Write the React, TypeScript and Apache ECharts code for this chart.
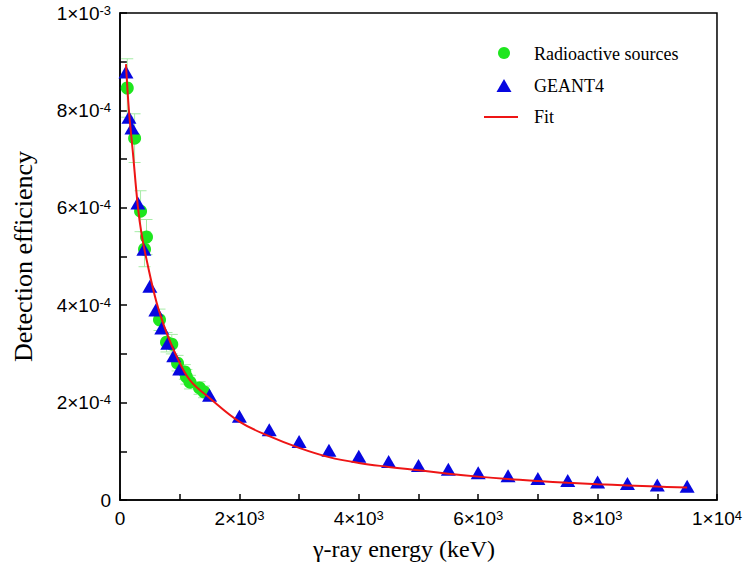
import React, { useEffect, useRef } from 'react';
import * as echarts from 'echarts';

// Radioactive source measurements (keV, efficiency, abs. uncertainty)
const sourceEnergy = [121.8, 244.7, 344.3, 411.1, 444.0, 661.7, 778.9, 867.4, 964.1, 1085.8, 1112.1, 1173.2, 1332.5, 1408.0];
const sourceEff = [8.46e-4, 7.43e-4, 5.93e-4, 5.15e-4, 5.40e-4, 3.70e-4, 3.24e-4, 3.20e-4, 2.81e-4, 2.63e-4, 2.53e-4, 2.42e-4, 2.30e-4, 2.22e-4];
const sourceErr = [0.60e-4, 0.50e-4, 0.42e-4, 0.36e-4, 0.36e-4, 0.22e-4, 0.20e-4, 0.20e-4, 0.16e-4, 0.15e-4, 0.15e-4, 0.14e-4, 0.13e-4, 0.12e-4];

// GEANT4 simulation
const geantEnergy = [100, 150, 200, 300, 400, 500, 600, 700, 800, 900, 1000, 1500, 2000, 2500, 3000, 3500, 4000, 4500, 5000, 5500, 6000, 6500, 7000, 7500, 8000, 8500, 9000, 9500];
const geantEff = [8.79e-4, 7.86e-4, 7.64e-4, 6.10e-4, 5.15e-4, 4.39e-4, 3.90e-4, 3.53e-4, 3.22e-4, 2.96e-4, 2.69e-4, 2.15e-4, 1.72e-4, 1.44e-4, 1.20e-4, 1.02e-4, 0.90e-4, 0.79e-4, 0.71e-4, 0.63e-4, 0.56e-4, 0.50e-4, 0.44e-4, 0.40e-4, 0.37e-4, 0.34e-4, 0.31e-4, 0.28e-4];

// Fit curve
const fitEnergy = [100, 150, 212, 300, 363, 446, 614, 781, 948, 1171, 1505, 2000, 2500, 3000, 3500, 4000, 4500, 5000, 5500, 6000, 6500, 7000, 7500, 8000, 8500, 9000, 9500];
const fitEff = [8.95e-4, 7.99e-4, 7.19e-4, 6.02e-4, 5.45e-4, 4.93e-4, 4.05e-4, 3.43e-4, 2.95e-4, 2.46e-4, 2.09e-4, 1.61e-4, 1.31e-4, 1.07e-4, 0.88e-4, 0.76e-4, 0.68e-4, 0.61e-4, 0.54e-4, 0.48e-4, 0.43e-4, 0.39e-4, 0.355e-4, 0.325e-4, 0.30e-4, 0.275e-4, 0.255e-4];

const legendNames = ['Radioactive sources', 'GEANT4', 'Fit'];
const xTitle = 'γ-ray energy (keV)';
const yTitle = 'Detection efficiency';

const GREEN = '#1ee61e';
const BLUE = '#0707e0';
const RED = '#ee1515';
const ERR = '#a6eca6';
const SANS = 'Liberation Sans';
const SERIF = 'Liberation Serif';

const richLabel = {
  b: { fontSize: 19, fontFamily: SANS, color: '#000' },
  s: { fontSize: 13, fontFamily: SANS, color: '#000', verticalAlign: 'top' as const },
};

function xFmt(v: number) {
  const k = Math.round(v / 1000);
  if (k === 0) return '{b|0}';
  if (k % 2 !== 0) return '';
  if (k === 10) return '{b|1×10}{s|4}';
  return `{b|${k}×10}{s|3}`;
}
function yFmt(v: number) {
  const k = Math.round(v * 1e4);
  if (k === 0) return '{b|0}';
  if (k % 2 !== 0) return '';
  if (k === 10) return '{b|1×10}{s|-3}';
  return `{b|${k}×10}{s|-4}`;
}

export default function App() {
  const ref = useRef<HTMLDivElement>(null);
  useEffect(() => {
    if (!ref.current) return;
    const chart = echarts.init(ref.current, null, { renderer: 'svg' });
    const errData = sourceEnergy.map((e, i) => [e, sourceEff[i], sourceErr[i]]);
    chart.setOption({
      animation: false,
      backgroundColor: '#fff',
      grid: { left: 120, right: 27, top: 13, bottom: 81, show: true, borderColor: '#000', borderWidth: 1.5, backgroundColor: 'transparent' },
      xAxis: {
        type: 'value', min: 0, max: 10000, interval: 1000,
        axisLine: { lineStyle: { color: '#000', width: 1.5 } },
        axisTick: { inside: true, length: 6, lineStyle: { color: '#000', width: 1.5 } },
        axisLabel: { formatter: xFmt, rich: richLabel, margin: 9, showMaxLabel: true },
        splitLine: { show: false },
      },
      yAxis: {
        type: 'value', min: 0, max: 1e-3, interval: 1e-4,
        name: yTitle, nameLocation: 'middle', nameGap: 84,
        nameTextStyle: { fontFamily: SERIF, fontSize: 26, color: '#000' },
        axisLine: { lineStyle: { color: '#000', width: 1.5 } },
        axisTick: { inside: true, length: 7, lineStyle: { color: '#000', width: 1.5 } },
        axisLabel: { formatter: yFmt, rich: richLabel, margin: 9, showMaxLabel: true },
        splitLine: { show: false },
      },
      series: [
        {
          type: 'custom', name: 'errors', silent: true, z: 1,
          data: errData,
          encode: { x: 0, y: 1 },
          renderItem: (params: any, api: any) => {
            const x = api.value(0), y = api.value(1), e = api.value(2);
            const hi = api.coord([x, y + e]);
            const lo = api.coord([x, y - e]);
            const w = 6;
            const style = { stroke: ERR, lineWidth: 1 };
            return {
              type: 'group',
              children: [
                { type: 'line', shape: { x1: hi[0], y1: hi[1], x2: lo[0], y2: lo[1] }, style },
                { type: 'line', shape: { x1: hi[0] - w, y1: hi[1], x2: hi[0] + w, y2: hi[1] }, style },
                { type: 'line', shape: { x1: lo[0] - w, y1: lo[1], x2: lo[0] + w, y2: lo[1] }, style },
              ],
            };
          },
        },
        {
          type: 'scatter', name: legendNames[0], z: 2,
          data: sourceEnergy.map((e, i) => [e, sourceEff[i]]),
          symbol: 'circle', symbolSize: 13,
          itemStyle: { color: GREEN, opacity: 1 },
        },
        {
          type: 'scatter', name: legendNames[1], z: 3,
          data: geantEnergy.map((e, i) => [e, geantEff[i]]),
          symbol: 'triangle', symbolSize: [15, 13],
          itemStyle: { color: BLUE, opacity: 1 },
        },
        {
          type: 'line', name: legendNames[2], z: 4,
          data: fitEnergy.map((e, i) => [e, fitEff[i]]),
          symbol: 'none', smooth: 0.4,
          lineStyle: { color: RED, width: 2 },
        },
      ],
      graphic: [
        { type: 'text', x: 404, y: 549, style: { text: xTitle, font: `24px ${SERIF}`, fill: '#000', align: 'center', verticalAlign: 'middle' } },
        { type: 'circle', shape: { cx: 504, cy: 53, r: 6 }, style: { fill: GREEN } },
        { type: 'polygon', shape: { points: [[504, 79], [496.5, 92], [511.5, 92]] }, style: { fill: BLUE } },
        { type: 'line', shape: { x1: 484, y1: 117, x2: 518, y2: 117 }, style: { stroke: RED, lineWidth: 2 } },
        { type: 'text', x: 534, y: 54, style: { text: legendNames[0], font: `18px ${SERIF}`, fill: '#000', verticalAlign: 'middle' } },
        { type: 'text', x: 534, y: 86, style: { text: legendNames[1], font: `18px ${SERIF}`, fill: '#000', verticalAlign: 'middle' } },
        { type: 'text', x: 534, y: 117, style: { text: legendNames[2], font: `18px ${SERIF}`, fill: '#000', verticalAlign: 'middle' } },
      ],
    });
    return () => chart.dispose();
  }, []);
  return <div ref={ref} style={{ width: 745, height: 581, position: 'absolute', left: 0, top: 0 }} />;
}
